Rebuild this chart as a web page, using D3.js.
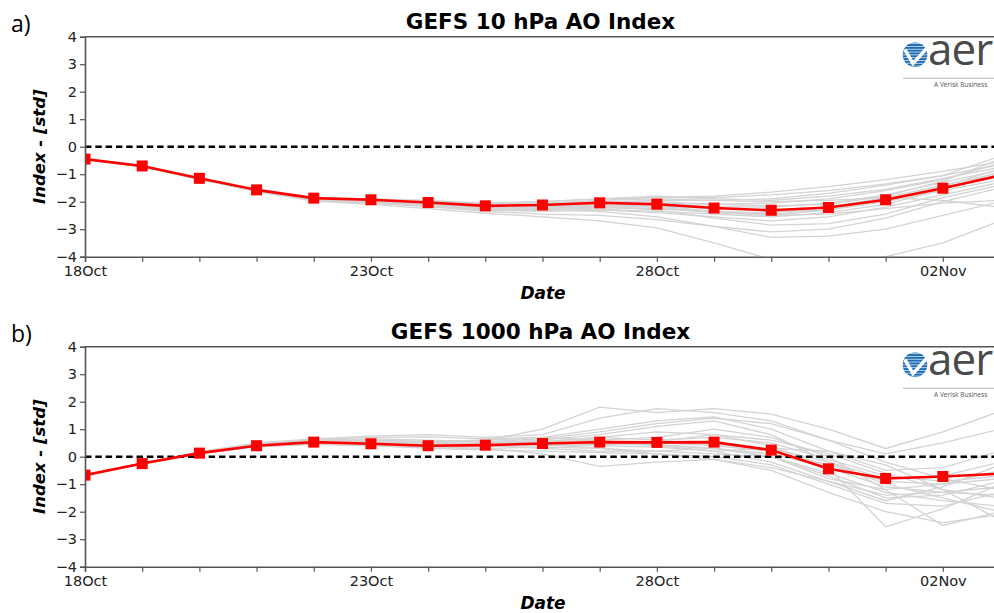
<!DOCTYPE html>
<html>
<head>
<meta charset="utf-8">
<script src="https://cdn.jsdelivr.net/npm/d3@7"></script>
<style>
  body { margin: 0; background: #fff; overflow: hidden; }
  svg { display: block; }
  .tick text { font-family: "DejaVu Sans", sans-serif; font-size: 14.5px; fill: #222; }
  .axis path, .axis line { stroke: #555; }
</style>
</head>
<body>
<div id="chart"></div>
<script>
// forecast days, 18 Oct -> 03 Nov
const dates = d3.range(17).map(i => new Date(2021, 9, 18 + i));
const yTicks = [-4, -3, -2, -1, 0, 1, 2, 3, 4];

// ensemble mean (red)
const mean10 = [-0.45, -0.70, -1.15, -1.57, -1.87, -1.93, -2.03, -2.15, -2.12, -2.04, -2.09, -2.23, -2.31, -2.21, -1.93, -1.51, -1.05];
const mean1000 = [-0.67, -0.25, 0.13, 0.40, 0.53, 0.47, 0.40, 0.42, 0.48, 0.53, 0.52, 0.53, 0.24, -0.44, -0.79, -0.72, -0.62];

// ensemble members (grey)
const members10 = [
  [-0.45,-0.72,-1.17,-1.60,-1.92,-1.98,-2.08,-2.18,-2.10,-1.95,-1.85,-1.80,-1.65,-1.45,-1.20,-0.90,-0.55],
  [-0.45,-0.71,-1.16,-1.58,-1.85,-1.90,-1.95,-2.05,-2.00,-1.90,-1.80,-1.90,-1.95,-1.80,-1.55,-1.15,-0.75],
  [-0.45,-0.72,-1.18,-1.62,-1.95,-2.05,-2.15,-2.30,-2.35,-2.30,-2.40,-2.55,-2.70,-2.55,-2.20,-1.75,-1.30],
  [-0.45,-0.73,-1.19,-1.63,-1.98,-2.10,-2.25,-2.42,-2.55,-2.70,-2.95,-3.50,-4.10,-4.25,-4.00,-3.50,-2.70],
  [-0.45,-0.72,-1.17,-1.61,-1.93,-2.02,-2.12,-2.25,-2.30,-2.35,-2.55,-2.90,-3.30,-3.25,-3.00,-2.50,-2.00],
  [-0.45,-0.71,-1.16,-1.59,-1.90,-1.96,-2.05,-2.15,-2.15,-2.05,-2.00,-2.10,-2.05,-1.90,-1.60,-1.20,-0.60],
  [-0.45,-0.72,-1.17,-1.60,-1.91,-1.99,-2.10,-2.22,-2.25,-2.20,-2.25,-2.40,-2.50,-2.30,-2.00,-1.60,-1.20],
  [-0.45,-0.71,-1.15,-1.57,-1.86,-1.92,-2.00,-2.10,-2.05,-1.95,-1.90,-1.95,-2.00,-1.95,-1.85,-1.95,-2.20],
  [-0.45,-0.72,-1.18,-1.61,-1.94,-2.03,-2.18,-2.35,-2.45,-2.50,-2.65,-2.90,-3.10,-3.00,-2.60,-2.00,-1.50],
  [-0.45,-0.71,-1.16,-1.58,-1.88,-1.94,-2.02,-2.12,-2.08,-2.00,-2.05,-2.20,-2.35,-2.30,-1.95,-1.50,-1.00],
  [-0.45,-0.72,-1.17,-1.59,-1.89,-1.95,-2.04,-2.14,-2.10,-2.02,-1.95,-1.95,-1.90,-1.70,-1.40,-1.05,-0.35],
  [-0.45,-0.72,-1.17,-1.60,-1.90,-1.97,-2.06,-2.18,-2.20,-2.15,-2.15,-2.25,-2.30,-2.20,-1.90,-1.45,-0.80],
  [-0.45,-0.71,-1.16,-1.58,-1.87,-1.93,-2.03,-2.13,-2.12,-2.08,-2.15,-2.35,-2.50,-2.45,-2.25,-2.05,-1.95],
  [-0.45,-0.72,-1.18,-1.62,-1.94,-2.04,-2.16,-2.30,-2.32,-2.28,-2.35,-2.45,-2.55,-2.40,-2.10,-1.55,-0.90],
  [-0.45,-0.71,-1.15,-1.57,-1.86,-1.91,-1.98,-2.06,-2.00,-1.90,-1.85,-1.85,-1.75,-1.60,-1.35,-1.05,-0.65],
  [-0.45,-0.72,-1.17,-1.60,-1.91,-2.00,-2.10,-2.20,-2.18,-2.12,-2.20,-2.38,-2.45,-2.30,-1.95,-1.45,-1.10],
  [-0.45,-0.72,-1.16,-1.59,-1.89,-1.96,-2.07,-2.20,-2.22,-2.18,-2.30,-2.60,-2.85,-2.80,-2.45,-1.85,-1.40],
  [-0.45,-0.71,-1.15,-1.58,-1.88,-1.95,-2.05,-2.18,-2.16,-2.10,-2.12,-2.18,-2.20,-2.05,-1.75,-1.30,-0.85],
  [-0.45,-0.72,-1.18,-1.61,-1.93,-2.00,-2.12,-2.28,-2.28,-2.22,-2.25,-2.35,-2.40,-2.20,-1.85,-1.40,-0.95],
  [-0.45,-0.71,-1.16,-1.59,-1.90,-1.97,-2.06,-2.17,-2.14,-2.06,-2.05,-2.10,-2.15,-2.10,-1.80,-1.25,-0.45]
];
const members1000 = [
  [-0.67,-0.24,0.18,0.50,0.65,0.75,0.80,0.70,0.80,1.40,1.75,1.60,1.30,0.60,0.10,0.50,1.00],
  [-0.67,-0.25,0.15,0.45,0.60,0.60,0.55,0.60,1.00,1.80,1.60,1.75,1.55,1.00,0.30,0.90,1.65],
  [-0.67,-0.26,0.12,0.38,0.48,0.45,0.35,0.30,0.10,-0.35,-0.20,-0.10,-0.40,-0.90,-1.40,-1.30,-1.10],
  [-0.67,-0.25,0.14,0.42,0.55,0.50,0.45,0.50,0.60,0.80,1.10,1.30,0.80,-0.20,-1.00,-1.50,-2.00],
  [-0.67,-0.26,0.11,0.36,0.45,0.40,0.30,0.25,0.20,0.15,0.10,-0.10,-0.50,-1.30,-2.00,-2.40,-2.10],
  [-0.67,-0.25,0.13,0.40,0.52,0.50,0.45,0.50,0.55,0.60,0.40,0.20,-0.20,-0.90,-1.60,-1.10,-0.30],
  [-0.67,-0.24,0.16,0.46,0.60,0.65,0.60,0.55,0.65,0.90,1.20,1.40,1.20,0.60,-0.20,-0.80,-1.20],
  [-0.67,-0.25,0.14,0.43,0.56,0.55,0.50,0.55,0.45,0.30,0.10,0.00,-0.30,-1.00,-1.70,-1.80,-1.30],
  [-0.67,-0.26,0.12,0.38,0.50,0.42,0.35,0.40,0.55,0.70,0.60,0.70,0.50,-0.10,-0.70,-0.90,-0.70],
  [-0.67,-0.25,0.15,0.44,0.58,0.55,0.48,0.45,0.40,0.40,0.55,0.80,0.60,0.10,-0.60,-1.20,-1.50],
  [-0.67,-0.25,0.13,0.41,0.54,0.48,0.40,0.42,0.50,0.50,0.45,0.30,0.10,-0.40,-1.10,-1.30,-1.40],
  [-0.67,-0.24,0.17,0.48,0.62,0.70,0.72,0.65,0.70,1.00,1.30,1.45,1.00,0.20,-0.50,-0.40,0.20],
  [-0.67,-0.26,0.11,0.37,0.47,0.40,0.33,0.30,0.35,0.30,0.20,0.10,0.00,-0.60,-1.30,-1.60,-1.80],
  [-0.67,-0.25,0.14,0.42,0.55,0.52,0.45,0.45,0.50,0.55,0.50,0.40,0.20,-0.30,-0.90,-1.00,-0.80],
  [-0.67,-0.25,0.13,0.40,0.52,0.45,0.38,0.40,0.45,0.40,0.35,0.20,0.30,0.20,-0.30,-1.20,-2.30],
  [-0.67,-0.24,0.16,0.45,0.58,0.60,0.55,0.60,0.70,0.60,0.70,1.00,0.70,0.00,-1.20,-2.50,-2.00],
  [-0.67,-0.26,0.12,0.39,0.50,0.45,0.40,0.38,0.40,0.45,0.50,0.45,0.30,-0.20,-0.80,-0.70,-0.20],
  [-0.67,-0.25,0.15,0.43,0.56,0.52,0.42,0.40,0.30,0.20,0.20,0.30,0.00,-0.70,-1.50,-1.40,-0.90],
  [-0.67,-0.25,0.14,0.41,0.53,0.48,0.42,0.45,0.55,0.70,0.90,0.80,0.40,-0.40,-2.55,-1.90,-1.00],
  [-0.67,-0.26,0.12,0.39,0.50,0.44,0.38,0.40,0.45,0.50,0.40,0.30,0.00,-0.80,-1.20,-1.00,-0.50]
];

const panels = [
  {label: "a)", title: "GEFS 10 hPa AO Index", mean: mean10, members: members10, top: 36.7},
  {label: "b)", title: "GEFS 1000 hPa AO Index", mean: mean1000, members: members1000, top: 346.7}
];

const W = 994, H = 613;
const left = 85, right = 1000, ph = 220;

const svg = d3.select("#chart").append("svg")
  .attr("width", W)
  .attr("height", H);

const x = d3.scaleTime()
  .domain([dates[0], dates[16]])
  .range([left, right]);

const fmt = d3.timeFormat("%d%b");

panels.forEach((p, k) => {
  const y = d3.scaleLinear().domain([-4, 4]).range([p.top + ph, p.top]);
  const g = svg.append("g");

  const clipId = "clip" + k;
  g.append("clipPath").attr("id", clipId)
    .append("rect")
    .attr("x", left).attr("y", p.top)
    .attr("width", right - left).attr("height", ph);

  // panel letter + title
  svg.append("text")
    .attr("x", 11).attr("y", p.top - 5)
    .style("font-family", "'Open Sans', sans-serif")
    .style("font-size", "23px")
    .text(p.label);

  svg.append("text")
    .attr("x", (left + right) / 2 - 2).attr("y", p.top - 8)
    .attr("text-anchor", "middle")
    .style("font-family", "'DejaVu Sans', sans-serif")
    .style("font-weight", "bold")
    .style("font-size", "21.5px")
    .text(p.title);

  const plot = g.append("g").attr("clip-path", `url(#${clipId})`);

  const line = d3.line()
    .x((d, i) => x(dates[i]))
    .y(d => y(d));

  plot.selectAll(".member")
    .data(p.members)
    .enter()
    .append("path")
    .attr("class", "member")
    .attr("d", line)
    .attr("fill", "none")
    .attr("stroke", "#d3d3d3")
    .attr("stroke-width", 1.3);

  // zero line
  plot.append("line")
    .attr("x1", left).attr("x2", right)
    .attr("y1", y(0)).attr("y2", y(0))
    .attr("stroke", "#000")
    .attr("stroke-width", 2.6)
    .attr("stroke-dasharray", "6.5,3.8");

  plot.append("path")
    .attr("d", line(p.mean))
    .attr("fill", "none")
    .attr("stroke", "#ff0000")
    .attr("stroke-width", 2.6);

  plot.selectAll(".marker")
    .data(p.mean)
    .enter()
    .append("rect")
    .attr("class", "marker")
    .attr("x", (d, i) => x(dates[i]) - 5.5)
    .attr("y", d => y(d) - 5.5)
    .attr("width", 11).attr("height", 11)
    .attr("fill", "#ff0000");

  // axes
  const yAxis = d3.axisLeft(y)
    .tickValues(yTicks)
    .tickFormat(d3.format("d"))
    .tickSize(5)
    .tickPadding(3);

  g.append("g")
    .attr("class", "axis")
    .attr("transform", `translate(${left},0)`)
    .call(yAxis)
    .call(a => a.select(".domain").attr("stroke-width", 1.6))
    .call(a => a.selectAll(".tick line").attr("stroke-width", 1.2));

  const xAxis = d3.axisBottom(x)
    .tickValues(dates)
    .tickFormat((d, i) => i % 5 === 0 ? fmt(d) : "")
    .tickSize(5)
    .tickPadding(4);

  g.append("g")
    .attr("class", "axis")
    .attr("transform", `translate(0,${p.top + ph})`)
    .call(xAxis)
    .call(a => a.select(".domain").attr("stroke-width", 1.6))
    .call(a => a.selectAll(".tick line").attr("stroke-width", 1.2));

  // top spine
  g.append("line")
    .attr("x1", left).attr("x2", right)
    .attr("y1", p.top).attr("y2", p.top)
    .attr("stroke", "#555").attr("stroke-width", 1.6);

  // axis labels
  g.append("text")
    .attr("transform", `translate(45,${p.top + ph / 2}) rotate(-90)`)
    .attr("text-anchor", "middle")
    .style("font-family", "'DejaVu Sans', sans-serif")
    .style("font-weight", "bold")
    .style("font-style", "italic")
    .style("font-size", "16.5px")
    .text("Index - [std]");

  g.append("text")
    .attr("x", 543).attr("y", p.top + ph + 42)
    .attr("text-anchor", "middle")
    .style("font-family", "'DejaVu Sans', sans-serif")
    .style("font-weight", "bold")
    .style("font-style", "italic")
    .style("font-size", "17px")
    .text("Date");

  // logo
  const logo = g.append("g").attr("transform", `translate(0,${p.top})`);
  const lcId = "logoclip" + k;
  logo.append("clipPath").attr("id", lcId)
    .append("circle").attr("cx", 915).attr("cy", 18).attr("r", 12.5);
  const globe = logo.append("g").attr("clip-path", `url(#${lcId})`);
  globe.append("circle").attr("cx", 915).attr("cy", 18).attr("r", 12.5).attr("fill", "#1b6cb4");
  globe.selectAll(".stripe")
    .data(d3.range(9))
    .enter()
    .append("rect")
    .attr("x", 900).attr("y", d => 6.5 + d * 2.8)
    .attr("width", 30).attr("height", 0.9)
    .attr("fill", "#fff").attr("opacity", 0.75);
  logo.append("path")
    .attr("d", "M905,13 L913,27 L929,9")
    .attr("fill", "none").attr("stroke", "#fff").attr("stroke-width", 3.4);
  logo.append("text")
    .attr("x", 928).attr("y", 28)
    .style("font-family", "'Open Sans', sans-serif")
    .style("font-size", "44px")
    .style("font-weight", 400)
    .attr("fill", "#4a4a4a")
    .attr("letter-spacing", "-1")
    .text("aer");
  logo.append("line")
    .attr("x1", 903).attr("x2", 994).attr("y1", 41.5).attr("y2", 41.5)
    .attr("stroke", "#b0b0b0").attr("stroke-width", 1);
  logo.append("text")
    .attr("x", 934).attr("y", 50)
    .style("font-family", "'Open Sans', sans-serif")
    .style("font-size", "6.6px")
    .attr("fill", "#555")
    .text("A Verisk Business");
});
</script>
</body>
</html>
